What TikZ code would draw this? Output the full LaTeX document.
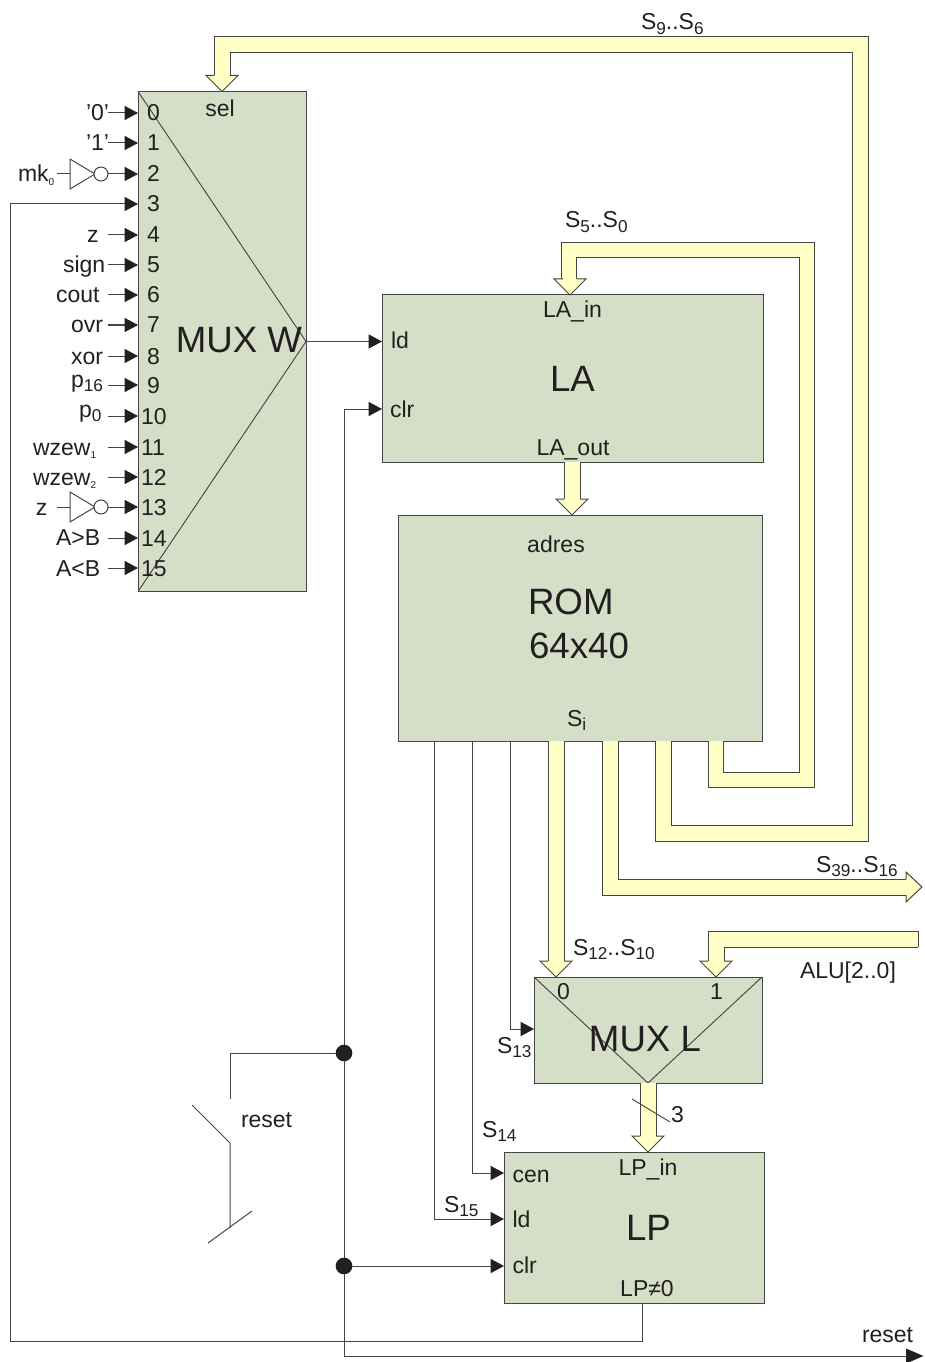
\documentclass[tikz,border=0pt]{standalone}
\usepackage{fontspec}
\setmainfont{Liberation Sans}
\usetikzlibrary{arrows.meta,calc}
\definecolor{blockfill}{HTML}{D5DEC6}
\definecolor{busfill}{HTML}{FFFFC6}
\definecolor{ink}{HTML}{231F20}
\definecolor{edge}{HTML}{454545}
\newcommand{\upx}{0.75pt}
\newcommand{\sbs}[1]{\raisebox{-3.6pt}{\fontsize{12.9pt}{14pt}\selectfont #1}}
\newcommand{\tinysub}[1]{\raisebox{-2.6pt}{\fontsize{7.5pt}{9pt}\selectfont #1}}
\newcommand{\headD}[2]{\draw[bushead,shift={(#1)}] (-#2,-16) -- (-16,-16) -- (0,0) -- (16,-16) -- (#2,-16);}
\tikzset{
  block/.style={draw=edge,fill=blockfill,line width=\upx,inner sep=0pt,outer sep=0pt},
  lab/.style={font=\fontsize{17.25pt}{20pt}\selectfont,text=ink,inner sep=0pt,outer sep=0pt,anchor=base west},
  big/.style={font=\fontsize{27.5pt}{33.75pt}\selectfont,text=ink,inner sep=0pt,outer sep=0pt},
  wire/.style={draw=edge,line width=\upx},
  sig/.style={wire,-{Triangle[length=10pt,width=10.5pt,color=ink]}},
  bus/.style={draw=edge,line width=\upx,double=busfill,double distance=#1*\upx},
  bus/.default=15,
  bushead/.style={draw=edge,fill=busfill,line width=\upx,miter limit=10},
  thin diag/.style={draw=edge,line width=0.7pt},
  dot/.style={circle,fill=ink,inner sep=0pt,outer sep=0pt,minimum size=12.5pt},
  bubble/.style={circle,draw=edge,fill=white,line width=\upx,inner sep=0pt,outer sep=0pt,minimum size=10.5pt},
}
\begin{document}
\begin{tikzpicture}[x=0.75pt,y=-0.75pt]
\useasboundingbox (0,0) rectangle (924,1362);
% blocks
\node[block,minimum width=168*\upx,minimum height=500*\upx] (muxw) at (222,341.5) {};
\node[block,minimum width=381*\upx,minimum height=167*\upx,big] (la) at (572.5,378.5) {LA};
\node[block,minimum width=364*\upx,minimum height=226*\upx] (rom) at (580,628) {};
\node[block,minimum width=228*\upx,minimum height=106*\upx] (muxl) at (648,1030) {};
\node[block,minimum width=260*\upx,minimum height=151*\upx] (lp) at (634,1227.5) {};
% multiplexer wedges
\draw[thin diag] (muxw.north west) -- (muxw.east) -- (muxw.south west);
\draw[thin diag] (muxl.north west) -- (muxl.south) -- (muxl.north east);
% named connection points
\foreach \n/\y in {0/113,1/143,2/174,3/204,4/235,5/265,6/295,7/325,8/356,9/385,10/416,11/447,12/477,13/507,14/538,15/568}{
  \coordinate (in\n) at (138,\y);
  \coordinate (src\n) at (108,\y);
}
\coordinate (lain) at (570,295);
\coordinate (romin) at (572,515);
\coordinate (muxl0) at (556,977);
\coordinate (muxl1) at (716,977);
\coordinate (lpin) at (648,1152);
\coordinate (laout) at (572,462);
\coordinate (lald) at (382,341.5);
\coordinate (laclr) at (382,409);
\coordinate (lpcen) at (504,1173);
\coordinate (lpld) at (504,1219);
\coordinate (lpclr) at (504,1266);
\coordinate (lpnz) at (642,1303);
\coordinate (muxls) at (534,1029);
\coordinate (resetend) at (923.5,1356);
\coordinate (outend) at (922,887);
\coordinate (aluend) at (918,939);
% buses
\draw[bus=15] (663,741) -- (663,833) -- (860,833) -- (860,45) -- (222,45) -- (222,76);
\headD{muxw.north}{8}
\draw[bus=13.5] (716,741) -- (716,780) -- (807,780) -- (807,250) -- (569,250) -- (569,279);
\headD{lain}{7}
\draw[bus=15] (610,741) -- (610,887) -- (906,887);
\draw[bushead,shift={(outend)}] (-16,-8) -- (-16,-15) -- (0,0) -- (-16,15) -- (-16,8);
\draw[bus=15] (556,741) -- (556,961);
\headD{muxl0}{8}
\draw[bus=15] (aluend) -- (716,939) -- (716,961);
\draw[wire] (918,931) -- (918,947);
\headD{muxl1}{8}
\draw[bus=15] (laout) -- (572,499);
\headD{romin}{8}
\draw[bus=15] (muxl.south) -- (648,1136);
\headD{lpin}{8}
\draw[thin diag] (632,1099) -- (670,1122);
% input arrows
\foreach \n in {0,1,2,3,4,5,6,7,8,9,10,11,12,13,14,15}{
  \ifnum\n=3\else\draw[sig] (src\n) -- (in\n);\fi
}
\foreach \n/\y in {2/174,13/507}{
  \draw[wire,fill=white] (70,\y-15) -- (95,\y) -- (70,\y+15) -- cycle;
  \draw[wire] (57,\y) -- (70,\y);
  \node[bubble] (bub\n) at (101,\y) {};
}
% other wires
\draw[sig] (lpnz) -- (642,1341) -- (10,1341) -- (10,204) -- (in3);
\draw[sig] (muxw.east) -- (lald);
\draw[sig] (344,409) -- (laclr);
\draw[wire,-{Triangle[length=13pt,width=11pt,color=ink]}] (344,409) -- (344,1356) -- (resetend);
\draw[sig] (434,741) -- (434,1219) -- (lpld);
\draw[sig] (472,741) -- (472,1173) -- (lpcen);
\draw[sig] (510,741) -- (510,1029) -- (muxls);
\node[dot] (j1) at (344,1053) {};
\node[dot] (j2) at (344,1266) {};
\draw[sig] (j2) -- (lpclr);
% reset switch
\coordinate (sw1) at (230,1099);
\coordinate (sw2) at (230,1143);
\coordinate (sw3) at (230,1228);
\draw[wire] (j1) -- (230,1053) -- (sw1);
\draw[wire] (192,1105) -- (sw2) -- (sw3);
\draw[wire] (208,1243) -- (252,1211);
% inputs: numbers
\foreach \n/\x/\b in {0/147/121,1/147/151,2/147/182,3/147/212,4/147/243,5/147/273,6/147/303,7/147/333,8/147/364,9/147/393,10/141/424,11/141/455,12/141/485,13/141/515,14/141/546,15/141/576}{
  \node[lab] (num\n) at (\x,\b) {\n};
}
% inputs: signal names
\node[lab] (l0) at (86,121) {’0’};
\node[lab] (l1) at (86,151) {’1’};
\node[lab] (l2) at (18,182) {mk\tinysub{0}};
\node[lab] (l4) at (87,243) {z};
\node[lab] (l5) at (63,273) {sign};
\node[lab] (l6) at (56,303) {cout};
\node[lab] (l7) at (71,333) {ovr};
\node[lab] (l8) at (71,364) {xor};
\node[lab] (l9) at (71,387) {p\sbs{16}};
\node[lab] (l10) at (79,417) {p\sbs{0}};
\node[lab] (l11) at (33,455) {wzew\tinysub{1}};
\node[lab] (l12) at (33,485) {wzew\tinysub{2}};
\node[lab] (l13) at (36,515) {z};
\node[lab] (l14) at (56,545) {A>B};
\node[lab] (l15) at (56,576) {A<B};
% block texts
\node[big,anchor=center] (tmuxw) at (239,340) {MUX W};
\node[lab,anchor=base] (tsel) at (220,117) {sel};
\node[lab,anchor=base] (tlain) at (572.5,318) {LA\_in};
\node[lab] (tld) at (391,348) {ld};
\node[lab] (tclr) at (390,417) {clr};
\node[lab,anchor=base] (tlaout) at (573,455) {LA\_out};
\node[lab,anchor=base] (tadres) at (556,552) {adres};
\node[big,anchor=base west] (trom) at (528,614) {ROM};
\node[big,anchor=base west] (t6440) at (529,658) {64x40};
\node[lab] (tsi) at (567,726) {S\sbs{i}};
\node[big,anchor=center] (tmuxl) at (645,1039) {MUX L};
\node[lab] (tm0) at (557,999) {0};
\node[lab] (tm1) at (710,999) {1};
\node[big,anchor=center] (tlp) at (648.5,1228) {LP};
\node[lab,anchor=base] (tlpin) at (648,1175) {LP\_in};
\node[lab] (tcen) at (512.5,1182) {cen};
\node[lab] (tlpld) at (512.5,1227) {ld};
\node[lab] (tlpclr) at (512.5,1273) {clr};
\node[lab,anchor=base] (tlpnz) at (647,1296) {LP≠0};
% bus and signal labels
\node[lab] (s96) at (641,30) {S\sbs{9}..S\sbs{6}};
\node[lab] (s50) at (565,228) {S\sbs{5}..S\sbs{0}};
\node[lab] (s3916) at (816,872) {S\sbs{39}..S\sbs{16}};
\node[lab] (s1210) at (573,955) {S\sbs{12}..S\sbs{10}};
\node[lab] (talu) at (800,978) {ALU[2..0]};
\node[lab] (s13) at (497,1053) {S\sbs{13}};
\node[lab] (s14) at (482,1137) {S\sbs{14}};
\node[lab] (s15) at (444,1212) {S\sbs{15}};
\node[lab] (t3) at (671,1122) {3};
\node[lab] (tresetsw) at (241,1127) {reset};
\node[lab] (tresetout) at (862,1342) {reset};
\end{tikzpicture}
\end{document}
